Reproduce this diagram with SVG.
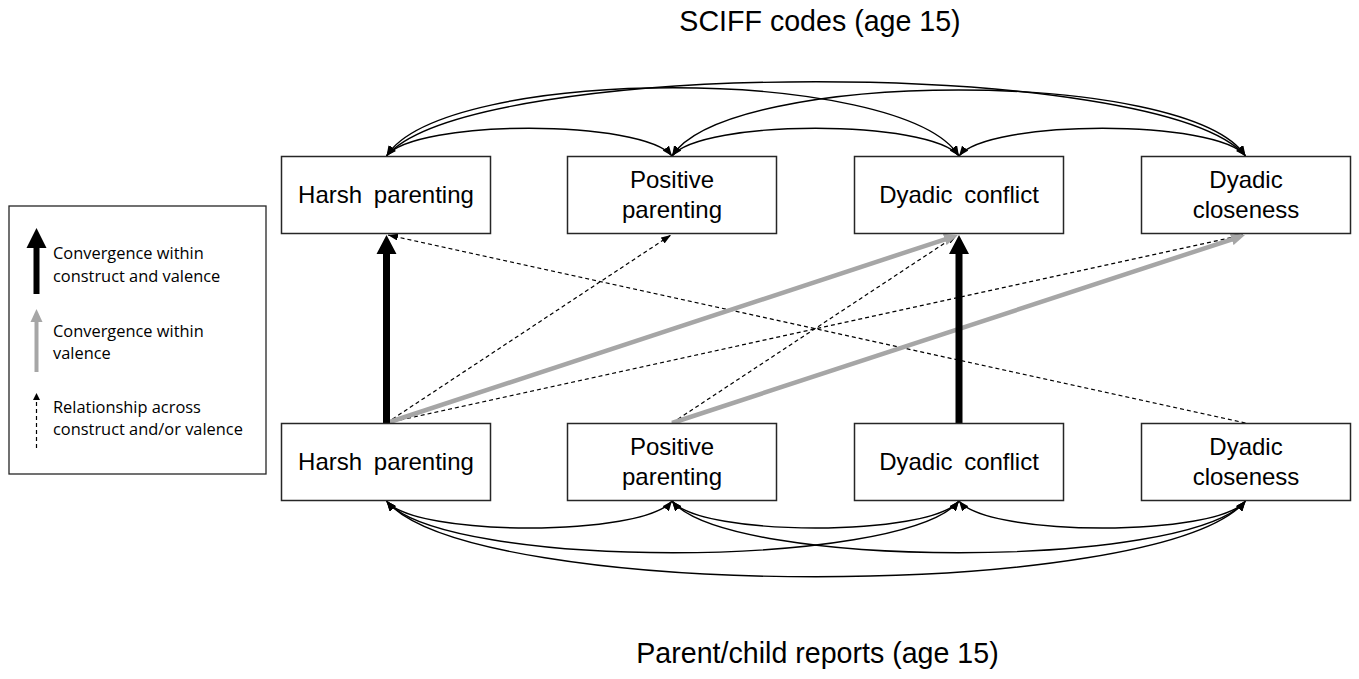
<svg xmlns="http://www.w3.org/2000/svg" width="1359" height="679" viewBox="0 0 1359 679">
<defs>
<style>
.box{fill:#fff;stroke:#262626;stroke-width:1.5}
.lbl{font-family:"Liberation Sans",Arial,sans-serif;font-size:24px;fill:#000;text-anchor:middle;word-spacing:5px}
.title{font-family:"Liberation Sans",Arial,sans-serif;font-size:28.6px;fill:#000;text-anchor:middle}
.leg{font-family:"Open Sans",sans-serif;font-size:16.4px;fill:#000}
.arc{fill:none;stroke:#000;stroke-width:1.4;marker-start:url(#arr);marker-end:url(#arr)}
.dash{fill:none;stroke:#000;stroke-width:1.2;stroke-dasharray:4 3;marker-end:url(#darr)}
.gray{fill:none;stroke:#a6a6a6;stroke-width:4.5;marker-end:url(#garr)}
</style>
<marker id="arr" markerUnits="userSpaceOnUse" viewBox="0 0 10 8" markerWidth="10" markerHeight="8" refX="10" refY="4" orient="auto-start-reverse"><path d="M0,0 L10,4 L0,8 z" fill="#000"/></marker>
<marker id="darr" markerUnits="userSpaceOnUse" viewBox="0 0 10 7" markerWidth="10" markerHeight="7" refX="10" refY="3.5" orient="auto"><path d="M0,0 L10,3.5 L0,7 z" fill="#000"/></marker>
<marker id="garr" markerUnits="userSpaceOnUse" viewBox="0 0 14 12" markerWidth="14" markerHeight="12" refX="2" refY="6" orient="auto"><path d="M0,0 L14,6 L0,12 z" fill="#a6a6a6"/></marker>
</defs>
<rect width="1359" height="679" fill="#fff"/>

<text class="title" x="820" y="31">SCIFF codes (age 15)</text>
<text class="title" x="817.5" y="663">Parent/child reports (age 15)</text>

<g id="legend">
<rect x="9" y="206" width="257" height="268" fill="#fff" stroke="#262626" stroke-width="1.3"/>
<path d="M33.5,294 L33.5,248 L26.5,248 L36.5,228 L46.5,248 L39.5,248 L39.5,294 z" fill="#000"/>
<path d="M36.5,372 L36.5,320" stroke="#a6a6a6" stroke-width="4"/>
<path d="M30.5,322 L36.5,309 L42.5,322 z" fill="#a6a6a6"/>
<path d="M36.5,448 L36.5,400" stroke="#000" stroke-width="1.2" stroke-dasharray="4 3"/>
<path d="M33,400 L36.5,393 L40,400 z" fill="#000"/>
<text class="leg" x="53" y="259">Convergence within</text>
<text class="leg" x="53" y="281.5">construct and valence</text>
<text class="leg" x="53" y="336.5">Convergence within</text>
<text class="leg" x="53" y="358.5">valence</text>
<text class="leg" x="53" y="413">Relationship across</text>
<text class="leg" x="53" y="435">construct and/or valence</text>
</g>

<g id="connectors">
<!-- top arcs -->
<path class="arc" d="M386.5,156 C415,119 643,119 672,156"/>
<path class="arc" d="M672,156 C701,119 930,119 959,156"/>
<path class="arc" d="M959,156 C988,119 1217,119 1245.5,156"/>
<path class="arc" d="M386.5,156 C444,65 902,65 959,156"/>
<path class="arc" d="M672,156 C729,68 1188,68 1245.5,156"/>
<path class="arc" d="M386.5,156 C472,57 1160,57 1245.5,156"/>
<!-- bottom arcs -->
<path class="arc" d="M386.5,501 C415,537 643,537 672,501"/>
<path class="arc" d="M672,501 C701,537 930,537 959,501"/>
<path class="arc" d="M959,501 C988,537 1217,537 1245.5,501"/>
<path class="arc" d="M386.5,501 C444,570 902,570 959,501"/>
<path class="arc" d="M672,501 C729,570 1188,570 1245.5,501"/>
<path class="arc" d="M386.5,501 C472,602 1160,602 1245.5,501"/>
<!-- dashed -->
<path class="dash" d="M386.5,423 L671,235"/>
<path class="dash" d="M386.5,423 L1243,235"/>
<path class="dash" d="M1245.5,423 L388,235"/>
<path class="dash" d="M672,423 L957,235"/>
<!-- gray -->
<path class="gray" d="M386.5,423 L946.6,238.8"/>
<path class="gray" d="M672,423 L1233.6,238.8"/>
<!-- thick black -->
<path d="M383,423 L383,254 L376.5,254 L386.5,235 L396.5,254 L390,254 L390,423 z" fill="#000"/>
<path d="M955.5,423 L955.5,254 L949,254 L959,235 L969,254 L962.5,254 L962.5,423 z" fill="#000"/>
</g>

<g id="n-top-harsh"><rect class="box" x="281.5" y="156.5" width="209" height="77"/><text class="lbl" x="386" y="203">Harsh parenting</text></g>
<g id="n-top-positive"><rect class="box" x="567.5" y="156.5" width="209" height="77"/><text class="lbl" x="672" y="188">Positive</text><text class="lbl" x="672" y="218">parenting</text></g>
<g id="n-top-conflict"><rect class="box" x="854.5" y="156.5" width="209" height="77"/><text class="lbl" x="959" y="203">Dyadic conflict</text></g>
<g id="n-top-closeness"><rect class="box" x="1141.5" y="156.5" width="209" height="77"/><text class="lbl" x="1246" y="188">Dyadic</text><text class="lbl" x="1246" y="218">closeness</text></g>

<g id="n-bot-harsh"><rect class="box" x="281.5" y="423.5" width="209" height="77"/><text class="lbl" x="386" y="470">Harsh parenting</text></g>
<g id="n-bot-positive"><rect class="box" x="567.5" y="423.5" width="209" height="77"/><text class="lbl" x="672" y="455">Positive</text><text class="lbl" x="672" y="485">parenting</text></g>
<g id="n-bot-conflict"><rect class="box" x="854.5" y="423.5" width="209" height="77"/><text class="lbl" x="959" y="470">Dyadic conflict</text></g>
<g id="n-bot-closeness"><rect class="box" x="1141.5" y="423.5" width="209" height="77"/><text class="lbl" x="1246" y="455">Dyadic</text><text class="lbl" x="1246" y="485">closeness</text></g>
</svg>
